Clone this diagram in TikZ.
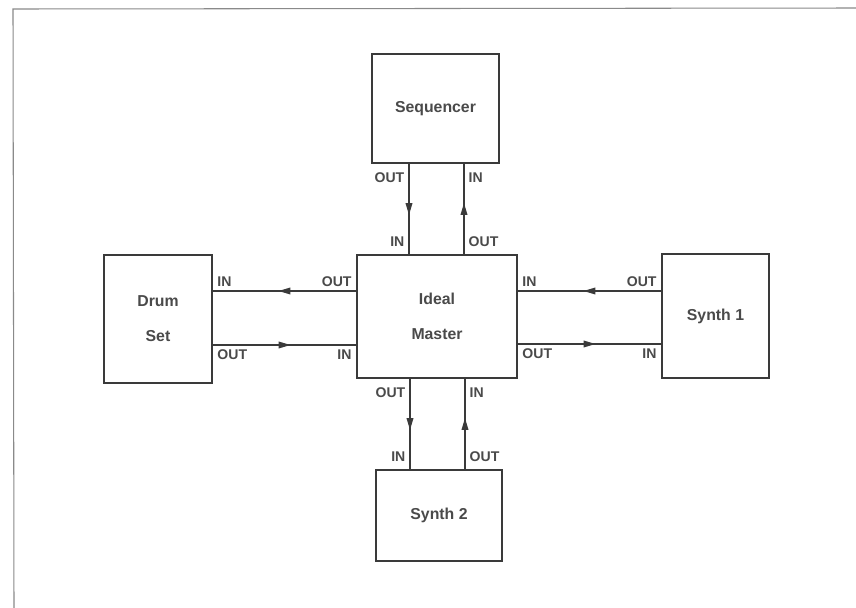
\documentclass[tikz,border=0pt]{standalone}
\usepackage{fontspec}
\setmainfont{Liberation Sans}
\usetikzlibrary{decorations.markings}

\definecolor{ink}{HTML}{3A3A3A}
\definecolor{txt}{HTML}{4A4A4A}
\definecolor{frame}{HTML}{8A8A8A}

\tikzset{
  unitbox/.style={draw=ink, line width=1.3pt, fill=white, align=center,
    text=txt, font=\bfseries\fontsize{13.5}{30}\selectfont},
  wire/.style={draw=ink, line width=1pt},
  midarrow/.style={wire, postaction={decorate},
    decoration={markings, mark=at position 0.5 with {\fill[ink] (5pt,0pt) -- (-5pt,3pt) -- (-5pt,-3pt) -- cycle;}}},
  port/.style={text=txt, font=\bfseries\fontsize{12}{14}\selectfont, inner sep=3.5pt}
}

\begin{document}
\begin{tikzpicture}[x=0.03cm, y=-0.03cm]
 \useasboundingbox[fill=white] (0,0) rectangle (856,608);
 % page frame of the scan
 \draw[frame, line width=0.9pt] (856,8) -- (13,9) -- (14,608);

 % the units
 \node[unitbox, minimum width=3.81cm, minimum height=3.27cm] (seq) at (435.5,108.5) {Sequencer};
 \node[unitbox, minimum width=4.8cm, minimum height=3.69cm] (master) at (437,316.5) {Ideal\\Master};
 \node[unitbox, minimum width=3.24cm, minimum height=3.84cm] (drum) at (158,319) {Drum\\Set};
 \node[unitbox, minimum width=3.21cm, minimum height=3.72cm] (synthA) at (715.5,316) {Synth 1};
 \node[unitbox, minimum width=3.78cm, minimum height=2.73cm] (synthB) at (439,515.5) {Synth 2};

 % where the wires run
 \coordinate (seqL) at (409,0);
 \coordinate (seqR) at (464,0);
 \coordinate (synBL) at (410,0);
 \coordinate (synBR) at (465,0);
 \coordinate (rowT) at (0,291);
 \coordinate (rowB) at (0,345);
 \coordinate (rowBR) at (0,344);

 % Sequencer <-> Master
 \draw[midarrow] (seq.south -| seqL) -- node[port, pos=0.15, left] {OUT} node[port, pos=0.86, left] {IN} (master.north -| seqL);
 \draw[midarrow] (master.north -| seqR) -- node[port, pos=0.14, right] {OUT} node[port, pos=0.85, right] {IN} (seq.south -| seqR);

 % Drum Set <-> Master
 \draw[midarrow] (master.west |- rowT) -- node[port, pos=0, above left] {OUT} node[port, pos=1, above right] {IN} (drum.east |- rowT);
 \draw[midarrow] (drum.east |- rowB) -- node[port, pos=0, below right] {OUT} node[port, pos=1, below left] {IN} (master.west |- rowB);

 % Synth 1 <-> Master
 \draw[midarrow] (synthA.west |- rowT) -- node[port, pos=0, above left] {OUT} node[port, pos=1, above right] {IN} (master.east |- rowT);
 \draw[midarrow] (master.east |- rowBR) -- node[port, pos=0, below right] {OUT} node[port, pos=1, below left] {IN} (synthA.west |- rowBR);

 % Master <-> Synth 2
 \draw[midarrow] (master.south -| synBL) -- node[port, pos=0.15, left] {OUT} node[port, pos=0.86, left] {IN} (synthB.north -| synBL);
 \draw[midarrow] (synthB.north -| synBR) -- node[port, pos=0.14, right] {OUT} node[port, pos=0.85, right] {IN} (master.south -| synBR);
\end{tikzpicture}
\end{document}
